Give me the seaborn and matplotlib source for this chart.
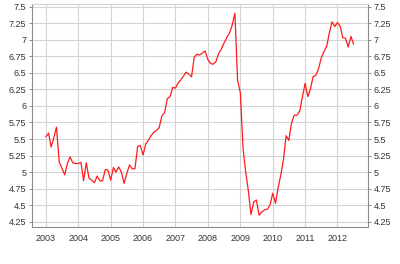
import matplotlib
matplotlib.use("Agg")
import matplotlib.pyplot as plt
import matplotlib.dates as mdates
import seaborn as sns
import pandas as pd

sns.set_theme(style="white")
plt.rcParams['font.family'] = ['Liberation Sans', 'DejaVu Sans']

start_month = "2003-01-01"
values = [
    5.53, 5.59, 5.38, 5.52, 5.68, 5.15, 5.06, 4.96, 5.13, 5.23, 5.14, 5.13,
    5.13, 5.15, 4.87, 5.14, 4.91, 4.88, 4.84, 4.94, 4.87, 4.87, 5.04, 5.03,
    4.88, 5.07, 5.00, 5.08, 5.00, 4.83, 4.98, 5.11, 5.05, 5.05, 5.39, 5.40,
    5.26, 5.43, 5.48, 5.55, 5.60, 5.63, 5.67, 5.85, 5.90, 6.11, 6.14, 6.28,
    6.27, 6.35, 6.39, 6.45, 6.51, 6.48, 6.44, 6.74, 6.78, 6.77, 6.80, 6.83,
    6.70, 6.64, 6.63, 6.67, 6.79, 6.86, 6.95, 7.03, 7.10, 7.22, 7.40, 6.39,
    6.20, 5.35, 5.02, 4.72, 4.36, 4.55, 4.58, 4.35, 4.40, 4.43, 4.44, 4.50,
    4.68, 4.53, 4.75, 4.95, 5.18, 5.55, 5.48, 5.74, 5.86, 5.86, 5.92, 6.13,
    6.34, 6.14, 6.25, 6.44, 6.46, 6.56, 6.72, 6.82, 6.90, 7.10, 7.27, 7.20,
    7.26, 7.20, 7.03, 7.02, 6.89, 7.05, 6.93,
]
y_ticks = [4.25, 4.5, 4.75, 5, 5.25, 5.5, 5.75, 6, 6.25, 6.5, 6.75, 7, 7.25, 7.5]
y_tick_labels = ["4.25", "4.5", "4.75", "5", "5.25", "5.5", "5.75", "6",
                 "6.25", "6.5", "6.75", "7", "7.25", "7.5"]

df = pd.DataFrame({
    "date": pd.date_range(start_month, periods=len(values), freq="MS"),
    "value": values,
})

fig = plt.figure(figsize=(4.0, 2.64), dpi=100)
ax = fig.add_axes([0.08, 0.141, 0.84, 0.844])

sns.lineplot(data=df, x="date", y="value", ax=ax, color="#ff1a1a", linewidth=0.9)

ax.set_xlim(pd.Timestamp("2002-07-29"), pd.Timestamp("2012-12-10"))
ax.set_ylim(4.175, 7.54)
ax.xaxis.set_major_locator(mdates.YearLocator())
ax.xaxis.set_major_formatter(mdates.DateFormatter("%Y"))
ax.set_yticks(y_ticks)
ax.set_yticklabels(y_tick_labels)
ax.set_xlabel("")
ax.set_ylabel("")

ax.grid(True, color="#d4d4d4", linewidth=0.8)
ax.set_axisbelow(True)
for side in ["left", "bottom", "right"]:
    ax.spines[side].set_color("#8c8c8c")
    ax.spines[side].set_linewidth(0.8)
ax.spines["top"].set_color("#d4d4d4")
ax.spines["top"].set_linewidth(0.8)

ax.tick_params(axis="y", which="both", left=True, right=True, labelleft=True,
               labelright=True, length=2.5, width=0.7, color="#8c8c8c",
               labelsize=6.5, labelcolor="#333333", pad=1.5)
ax.tick_params(axis="x", length=0, labelsize=6.5, labelcolor="#333333", pad=5)

fig.savefig("out.png", dpi=100)
